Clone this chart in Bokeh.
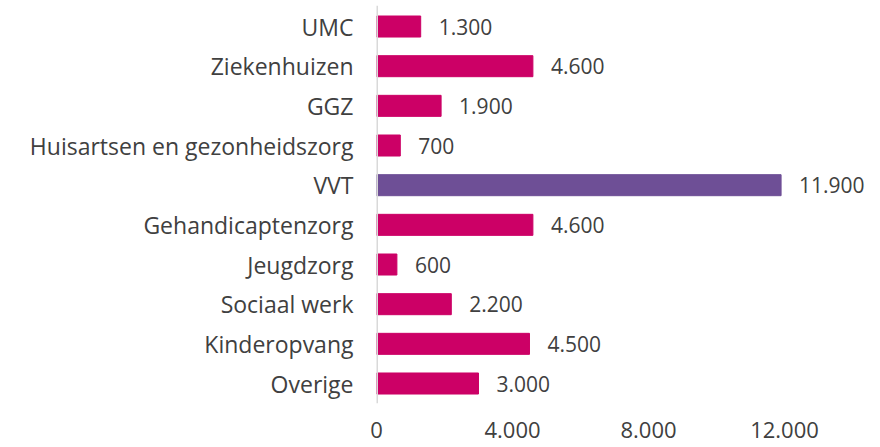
from bokeh.plotting import figure
from bokeh.models import ColumnDataSource, FixedTicker, Range1d, LabelSet
from bokeh.core.properties import value
from bokeh.embed import file_html
from bokeh.resources import INLINE

categories = ["UMC", "Ziekenhuizen", "GGZ", "Huisartsen en gezonheidszorg", "VVT",
              "Gehandicaptenzorg", "Jeugdzorg", "Sociaal werk", "Kinderopvang", "Overige"]
values = [1300, 4600, 1900, 700, 11900, 4600, 600, 2200, 4500, 3000]
highlight = "VVT"
x_ticks = [0, 4000, 8000, 12000]

def nl(v):
    return f"{v:,}".replace(",", ".")

n = len(categories)
ypos = [n - 1 - i for i in range(n)]
colors = ["#6E4F96" if c == highlight else "#CC0066" for c in categories]
src = ColumnDataSource(dict(y=ypos, v=values, c=colors,
                            lbl=[nl(v) for v in values]))

y0, y1 = -0.504, n - 1 + 0.53
p = figure(width=878, height=445, output_backend="svg", toolbar_location=None,
           x_range=Range1d(0, 14765), y_range=Range1d(y0, y1),
           min_border_left=376, min_border_right=0, min_border_top=5, min_border_bottom=42)
p.outline_line_color = None
p.grid.grid_line_color = None

p.hbar(y="y", right="v", left=0, height=0.53, color="c", source=src)
p.segment(x0=[0], x1=[0], y0=[y0], y1=[y1], line_color="#D9D9D9", line_width=3)

p.add_layout(LabelSet(x="v", y="y", text="lbl", source=src, x_offset=18, y_offset=0,
                      text_baseline="middle", text_font=value("Open Sans"),
                      text_font_size="21px", text_color="#404040"))

ya = p.yaxis[0]
ya.ticker = FixedTicker(ticks=ypos)
ya.major_label_overrides = {yy: c for yy, c in zip(ypos, categories)}
ya.axis_line_color = None
ya.major_tick_line_color = None
ya.minor_tick_line_color = None
ya.major_label_text_font = "Open Sans"
ya.major_label_text_font_size = "23px"
ya.major_label_text_color = "#404040"
ya.major_label_standoff = 17

xa = p.xaxis[0]
xa.ticker = FixedTicker(ticks=x_ticks)
xa.major_label_overrides = {t: nl(t) for t in x_ticks}
xa.axis_line_color = None
xa.major_tick_line_color = None
xa.minor_tick_line_color = None
xa.major_label_text_font = "Open Sans"
xa.major_label_text_font_size = "22px"
xa.major_label_text_color = "#404040"
xa.major_label_standoff = 12

open("out.html", "w").write(file_html(p, INLINE))
